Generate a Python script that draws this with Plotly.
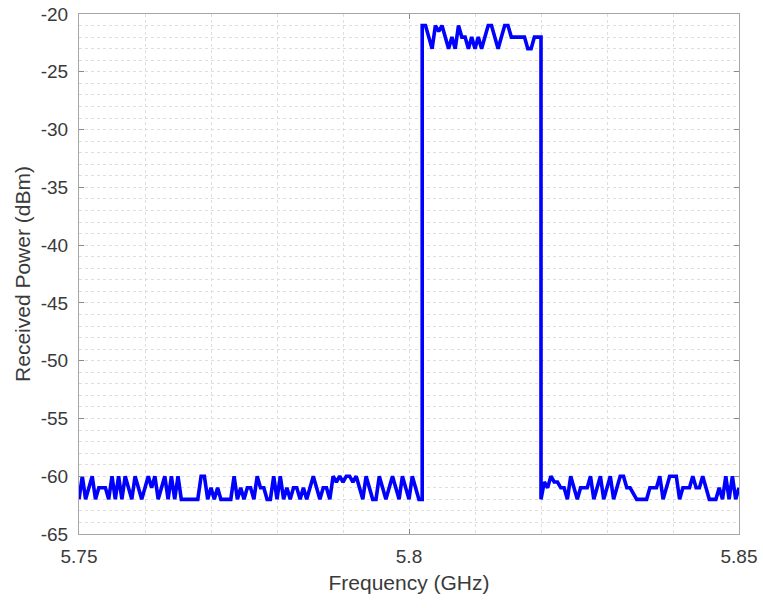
import numpy as np
import plotly.graph_objects as go

# Sampling grid (GHz), 0.5 MHz spacing
freq_left = np.round(np.arange(5.750, 5.8020001, 0.0005), 4)
freq_band = np.round(np.arange(5.802, 5.8200001, 0.0005), 4)
freq_right = np.round(np.arange(5.820, 5.8500001, 0.0005), 4)

# Received power (dBm): noise floor below the band
power_left = [
    -62, -60, -62, -61, -60, -62, -61, -61, -61, -62,
    -60, -62, -60, -62, -60, -61, -62, -60, -61, -62,
    -61, -60, -61, -60, -62, -61, -60, -62, -60, -62,
    -60, -62, -62, -62, -62, -62, -62, -60, -60, -62,
    -61, -62, -61, -62, -62, -62, -62, -60, -62, -61,
    -62, -61, -61, -62, -60, -61, -61, -62, -62, -60,
    -62, -60, -62, -61, -62, -61, -61, -62, -61, -62,
    -61, -60, -61, -62, -61, -61, -62, -60, -60.5, -60,
    -60.5, -60, -60, -60.5, -60, -61, -62, -60, -61, -62,
    -62, -60, -61, -62, -61, -60, -61, -62, -60, -61,
    -62, -60, -61, -62, -62,
]

# Received power (dBm): in-band
power_band = [
    -21, -21, -22, -23, -21, -21.5, -21, -22, -23, -22,
    -23, -21, -22, -22, -23, -22, -23, -22, -23, -22,
    -21, -21, -22, -23, -22, -21, -21, -22, -22, -22,
    -22, -22, -23, -23, -22, -22, -22,
]

# Received power (dBm): noise floor above the band
power_right = [
    -62, -60.5, -61, -60, -60.5, -60.5, -61, -61, -62, -60,
    -61, -62, -61, -61, -61, -60, -62, -61, -60, -62,
    -61, -60, -62, -61, -60, -60, -61, -61, -61.5, -62,
    -62, -62, -62, -61, -61, -61, -60, -62, -61, -60,
    -60, -60, -62, -61, -61, -61, -60, -61, -61, -60,
    -61, -62, -62, -62, -61, -62, -60, -62, -60, -62,
    -61,
]

x_ticks = [5.75, 5.8, 5.85]
x_tick_labels = ["5.75", "5.8", "5.85"]
y_ticks = list(range(-65, -19, 5))
y_tick_labels = [str(v) for v in y_ticks]

freq = np.concatenate([freq_left, freq_band, freq_right])
power = np.concatenate([power_left, power_band, power_right])

fig = go.Figure()
fig.add_trace(go.Scatter(
    x=freq, y=power, mode="lines",
    line=dict(color="#0000ff", width=3.6),
    showlegend=False, hoverinfo="skip",
))

font_family = "Liberation Sans, Arial, sans-serif"
grid_color = "#dedede"

axis_common = dict(
    automargin=False,
    showline=True, linecolor="#a6a6a6", linewidth=1, mirror="ticks",
    ticks="inside", ticklen=5, tickcolor="#8a8a8a", tickwidth=1,
    showgrid=True, gridcolor=grid_color, griddash="dot", gridwidth=1,
    zeroline=False,
    tickfont=dict(family=font_family, size=19, color="#3a3a3a"),
    title_font=dict(family=font_family, size=21, color="#3a3a3a"),
)

fig.update_xaxes(
    range=[5.75, 5.85], tickvals=x_ticks, ticktext=x_tick_labels,
    minor=dict(dtick=0.01, tick0=5.75, showgrid=True, gridcolor=grid_color,
               griddash="dot", gridwidth=1, ticks=""),
    title_text="Frequency (GHz)", title_standoff=9,
    ticklabelstandoff=5,
    **axis_common,
)
fig.update_yaxes(
    range=[-65, -20], tickvals=y_ticks, ticktext=y_tick_labels,
    minor=dict(dtick=1, tick0=-65, showgrid=True, gridcolor=grid_color,
               griddash="dot", gridwidth=1, ticks=""),
    title_text="Received Power (dBm)", title_standoff=4,
    ticklabelstandoff=6,
    **axis_common,
)

fig.update_layout(
    width=763, height=608,
    margin=dict(l=79, r=24, t=14, b=74),
    paper_bgcolor="white", plot_bgcolor="white",
)

fig.write_html("out.html")
